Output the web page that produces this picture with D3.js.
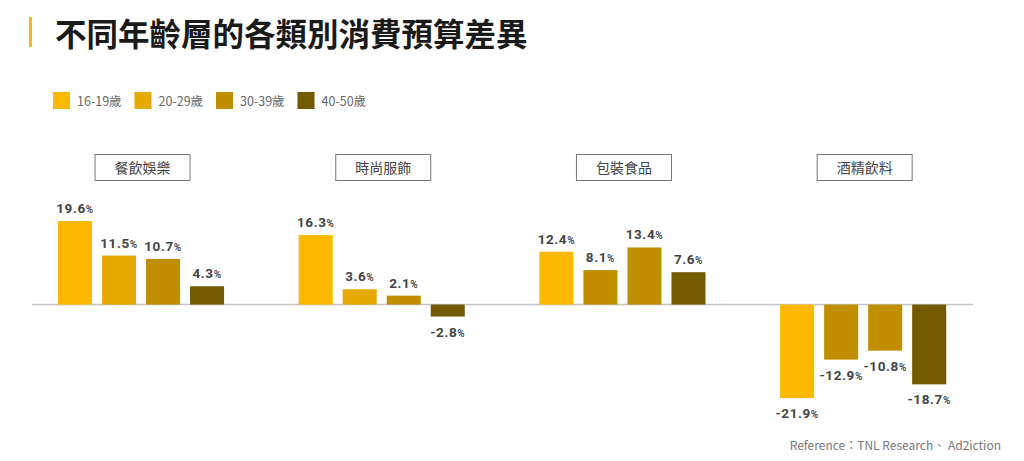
<!DOCTYPE html>
<html>
<head>
<meta charset="utf-8">
<script src="https://cdn.jsdelivr.net/npm/d3@7"></script>
<style>
  body { margin: 0; background: #fff; }
  svg { display: block; }
</style>
</head>
<body>
<div id="chart"></div>
<script>
// data
const categories = ['餐飲娛樂', '時尚服飾', '包裝食品', '酒精飲料'];
const ageGroups = ['16-19歲', '20-29歲', '30-39歲', '40-50歲'];
const values = [
  [19.6, 11.5, 10.7, 4.3],
  [16.3, 3.6, 2.1, -2.8],
  [12.4, 8.1, 13.4, 7.6],
  [-21.9, -12.9, -10.8, -18.7]
];
const title = '不同年齡層的各類別消費預算差異';
const source = 'Reference：TNL Research、 Ad2iction';

const colors = ['#fdb900', '#e6aa00', '#c18e00', '#735a00'];
// in the original, the 2nd bar of the last two groups is drawn in the 30-39 shade
const colorFix = { '2-1': 2, '3-1': 2 };

const width = 1024, height = 461;

const svg = d3.select('#chart')
  .append('svg')
  .attr('width', width)
  .attr('height', height);

// title
svg.append('rect')
  .attr('x', 29).attr('y', 17).attr('width', 3).attr('height', 30)
  .attr('fill', '#fdb900');

svg.append('text')
  .attr('x', 55).attr('y', 46)
  .attr('font-family', '"Noto Sans CJK TC", "Noto Sans CJK SC", sans-serif')
  .attr('font-weight', 700)
  .attr('font-size', 31.5)
  .attr('fill', '#1a1a1a')
  .text(title);

// legend
const legend = svg.append('g')
  .selectAll('g')
  .data(ageGroups)
  .join('g')
    .attr('transform', (d, i) => `translate(${53 + i * 81.5},92)`);

legend.append('rect')
  .attr('width', 17).attr('height', 17)
  .attr('fill', (d, i) => colors[i]);

legend.append('text')
  .attr('x', 24).attr('y', 13.5)
  .attr('font-family', '"Noto Sans CJK TC", sans-serif')
  .attr('font-size', 12.5)
  .attr('fill', '#666')
  .text(d => d);

// scales
const x0 = d3.scaleBand()
  .domain(categories)
  .range([58, 946.2])
  .paddingInner(0.31)
  .paddingOuter(0);

const x1 = d3.scaleBand()
  .domain(d3.range(ageGroups.length))
  .range([0, x0.bandwidth()])
  .paddingInner(0.227)
  .paddingOuter(0);

const y = d3.scaleLinear()
  .domain([-21.9, 19.6])
  .range([398, 221]);

// zero line
svg.append('line')
  .attr('x1', 32).attr('x2', 973)
  .attr('y1', y(0)).attr('y2', y(0))
  .attr('stroke', '#c4c4c4')
  .attr('stroke-width', 1.5);

const groups = svg.append('g')
  .selectAll('g')
  .data(categories)
  .join('g')
    .attr('transform', d => `translate(${x0(d)},0)`);

// category labels in boxes
const centre = x0.bandwidth() / 2;
groups.append('rect')
  .attr('x', centre - 46)
  .attr('y', 154.5)
  .attr('width', 95)
  .attr('height', 26)
  .attr('fill', '#fff')
  .attr('stroke', '#777')
  .attr('stroke-width', 1);

groups.append('text')
  .attr('x', centre + 1.5)
  .attr('y', 173)
  .attr('text-anchor', 'middle')
  .attr('font-family', '"Noto Sans CJK TC", sans-serif')
  .attr('font-size', 14)
  .attr('fill', '#444')
  .text(d => d);

// bars
const bars = groups.selectAll('g.bar')
  .data((d, gi) => values[gi].map((v, i) => ({ v, i, gi })))
  .join('g')
    .attr('class', 'bar');

bars.append('rect')
  .attr('x', d => x1(d.i))
  .attr('width', x1.bandwidth())
  .attr('y', d => y(Math.max(0, d.v)))
  .attr('height', d => Math.abs(y(d.v) - y(0)))
  .attr('fill', d => colors[colorFix[`${d.gi}-${d.i}`] ?? d.i]);

const label = bars.append('text')
  .attr('x', d => x1(d.i) + x1.bandwidth() / 2)
  .attr('y', d => d.v >= 0 ? y(d.v) - 8 : y(d.v) + 20)
  .attr('text-anchor', 'middle')
  .attr('font-family', 'Roboto, "DejaVu Sans", sans-serif')
  .attr('font-weight', 700)
  .attr('font-size', 13.5)
  .attr('letter-spacing', 0.6)
  .attr('fill', '#444');

label.append('tspan').text(d => d.v.toFixed(1));
label.append('tspan')
  .attr('font-size', 10)
  .attr('font-weight', 600)
  .text('%');

// source
svg.append('text')
  .attr('x', 1001).attr('y', 450)
  .attr('text-anchor', 'end')
  .attr('font-family', '"Noto Sans CJK TC", sans-serif')
  .attr('font-size', 12)
  .attr('fill', '#777')
  .text(source);
</script>
</body>
</html>
